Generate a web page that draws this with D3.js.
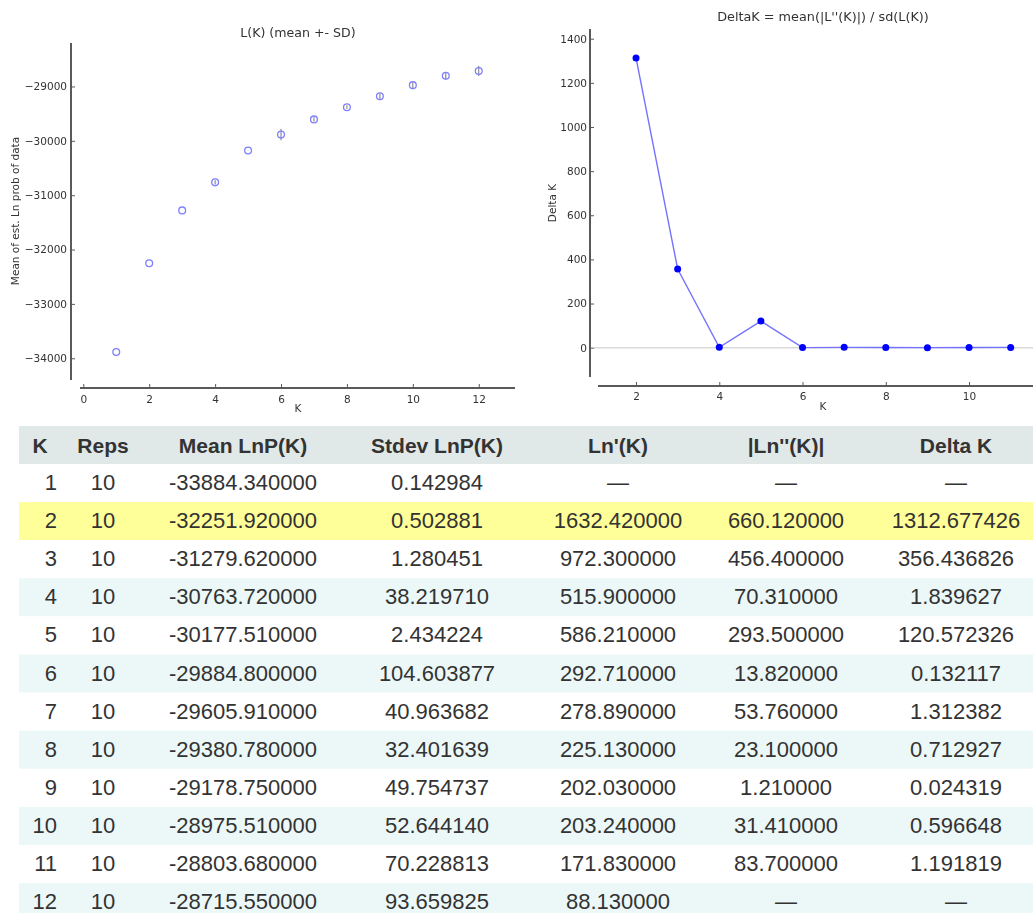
<!DOCTYPE html>
<html>
<head>
<meta charset="utf-8">
<script src="https://cdn.jsdelivr.net/npm/d3@7"></script>
<style>
  html, body { margin: 0; padding: 0; background: #fff; }
  svg { display: block; }
</style>
</head>
<body>
<svg id="chart" width="1033" height="913"></svg>
<script>
// Structure Harvester summary: K runs 1..12, 10 replicates each
const kValues   = [1, 2, 3, 4, 5, 6, 7, 8, 9, 10, 11, 12];
const reps      = [10, 10, 10, 10, 10, 10, 10, 10, 10, 10, 10, 10];
const meanLnP   = [-33884.34, -32251.92, -31279.62, -30763.72, -30177.51, -29884.80,
                   -29605.91, -29380.78, -29178.75, -28975.51, -28803.68, -28715.55];
const stdevLnP  = [0.142984, 0.502881, 1.280451, 38.219710, 2.434224, 104.603877,
                   40.963682, 32.401639, 49.754737, 52.644140, 70.228813, 93.659825];
const lnPrime   = [null, 1632.42, 972.30, 515.90, 586.21, 292.71, 278.89, 225.13,
                   202.03, 203.24, 171.83, 88.13];
const lnDouble  = [null, 660.12, 456.40, 70.31, 293.50, 13.82, 53.76, 23.10,
                   1.21, 31.41, 83.70, null];
const deltaK    = [null, 1312.677426, 356.436826, 1.839627, 120.572326, 0.132117,
                   1.312382, 0.712927, 0.024319, 0.596648, 1.191819, null];
const bestK     = 2;

const leftXTicks  = [0, 2, 4, 6, 8, 10, 12];
const leftYTicks  = [-34000, -33000, -32000, -31000, -30000, -29000];
const rightXTicks = [2, 4, 6, 8, 10];
const rightYTicks = [0, 200, 400, 600, 800, 1000, 1200, 1400];
const headers     = ["K", "Reps", "Mean LnP(K)", "Stdev LnP(K)", "Ln'(K)", "|Ln''(K)|", "Delta K"];

const svg = d3.select("#chart");
const plotFont = "DejaVu Sans, sans-serif";
const axisColor = "#5a5a5a";
const tickSize = 10.5;
const fmtTick = d => d < 0 ? "\u2212" + Math.abs(d) : String(d);

// the plots are slightly soft raster renderings
svg.append("defs").append("filter").attr("id", "soft")
  .append("feGaussianBlur").attr("stdDeviation", 0.45);

function styleAxis(g) {
  g.select(".domain").remove();
  g.selectAll(".tick line").attr("stroke", axisColor).attr("stroke-width", 1);
  g.selectAll(".tick text").attr("fill", "#333").attr("font-family", plotFont).attr("font-size", tickSize);
}

/* ---------- Left panel: L(K) mean +- SD ---------- */
const lx = d3.scaleLinear().domain([-0.1, 13.1]).range([80, 515]);
const ly = d3.scaleLinear().domain([-34400, -28200]).range([380, 43]);
const left = svg.append("g").attr("filter", "url(#soft)");

left.append("line").attr("x1", 71).attr("x2", 71).attr("y1", ly.range()[0]).attr("y2", ly.range()[1])
  .attr("stroke", axisColor).attr("stroke-width", 2);
left.append("line").attr("x1", lx.range()[0]).attr("x2", lx.range()[1]).attr("y1", 388).attr("y2", 388)
  .attr("stroke", axisColor).attr("stroke-width", 2);

left.append("g").attr("transform", "translate(71,0)")
  .call(d3.axisRight(ly).tickValues(leftYTicks).tickSize(4).tickFormat(fmtTick))
  .call(styleAxis)
  .call(g => g.selectAll(".tick text").attr("x", -4).attr("text-anchor", "end"));

left.append("g").attr("transform", "translate(0,388)")
  .call(d3.axisTop(lx).tickValues(leftXTicks).tickSize(4).tickFormat(d3.format("d")))
  .call(styleAxis)
  .call(g => g.selectAll(".tick text").attr("y", 8).attr("dy", "0.71em"));

const lkData = kValues.map((k, i) => ({k, m: meanLnP[i], sd: stdevLnP[i]}));
left.append("g").selectAll("line").data(lkData).join("line")
  .attr("x1", d => lx(d.k)).attr("x2", d => lx(d.k))
  .attr("y1", d => ly(d.m - d.sd)).attr("y2", d => ly(d.m + d.sd))
  .attr("stroke", "#777").attr("stroke-width", 1);
left.append("g").selectAll("circle").data(lkData).join("circle")
  .attr("cx", d => lx(d.k)).attr("cy", d => ly(d.m)).attr("r", 3.4)
  .attr("fill", "none").attr("stroke", "#7f7fff").attr("stroke-width", 1.3);

left.append("text").attr("x", 298).attr("y", 37).attr("text-anchor", "middle")
  .attr("font-family", plotFont).attr("font-size", 12.6).attr("fill", "#333").text("L(K) (mean +- SD)");
left.append("text").attr("x", 298).attr("y", 412).attr("text-anchor", "middle")
  .attr("font-family", plotFont).attr("font-size", tickSize).attr("fill", "#333").text("K");
left.append("text").attr("transform", "translate(19,211) rotate(-90)").attr("text-anchor", "middle")
  .attr("font-family", plotFont).attr("font-size", tickSize).attr("fill", "#333").text("Mean of est. Ln prob of data");

/* ---------- Right panel: Delta K ---------- */
const rx = d3.scaleLinear().domain([1, 12]).range([594.4, 1052.3]);
const ry = d3.scaleLinear().domain([-133, 1444]).range([377, 29]);
const right = svg.append("g").attr("filter", "url(#soft)");

right.append("line").attr("x1", 594).attr("x2", 1033).attr("y1", ry(0)).attr("y2", ry(0))
  .attr("stroke", "#d9d9d9").attr("stroke-width", 1.5);
right.append("line").attr("x1", 590).attr("x2", 590).attr("y1", ry.range()[0]).attr("y2", ry.range()[1])
  .attr("stroke", axisColor).attr("stroke-width", 2);
right.append("line").attr("x1", 598).attr("x2", 1033).attr("y1", 386).attr("y2", 386)
  .attr("stroke", axisColor).attr("stroke-width", 2);

right.append("g").attr("transform", "translate(590,0)")
  .call(d3.axisRight(ry).tickValues(rightYTicks).tickSize(4).tickFormat(d3.format("d")))
  .call(styleAxis)
  .call(g => g.selectAll(".tick text").attr("x", -3).attr("text-anchor", "end"));

right.append("g").attr("transform", "translate(0,386)")
  .call(d3.axisTop(rx).tickValues(rightXTicks).tickSize(4).tickFormat(d3.format("d")))
  .call(styleAxis)
  .call(g => g.selectAll(".tick text").attr("y", 7).attr("dy", "0.71em"));

const dkData = kValues.map((k, i) => ({k, v: deltaK[i]})).filter(d => d.v !== null);
right.append("path").datum(dkData)
  .attr("d", d3.line().x(d => rx(d.k)).y(d => ry(d.v)))
  .attr("fill", "none").attr("stroke", "#7373ff").attr("stroke-width", 1.4);
right.append("g").selectAll("circle").data(dkData).join("circle")
  .attr("cx", d => rx(d.k)).attr("cy", d => ry(d.v)).attr("r", 3.5).attr("fill", "#0000ff");

right.append("text").attr("x", 823).attr("y", 21).attr("text-anchor", "middle")
  .attr("font-family", plotFont).attr("font-size", 12.8).attr("fill", "#333")
  .text("DeltaK = mean(|L''(K)|) / sd(L(K))");
right.append("text").attr("x", 823).attr("y", 410).attr("text-anchor", "middle")
  .attr("font-family", plotFont).attr("font-size", tickSize).attr("fill", "#333").text("K");
right.append("text").attr("transform", "translate(556,203) rotate(-90)").attr("text-anchor", "middle")
  .attr("font-family", plotFont).attr("font-size", tickSize).attr("fill", "#333").text("Delta K");

/* ---------- Summary table ---------- */
const tableFont = "Liberation Sans, Arial, sans-serif";
const colCenters = [40, 103, 243, 437, 618, 786, 956];
const headTop = 426, headH = 38, rowH = 38.1;
const table = svg.append("g");
const dash = "\u2014";
const fmt6 = v => v === null ? dash : v.toFixed(6);

table.append("rect").attr("x", 19).attr("y", headTop).attr("width", 1014).attr("height", headH).attr("fill", "#e1e8e8");
table.selectAll("text.head").data(headers).join("text").attr("class", "head")
  .attr("x", (d, i) => colCenters[i]).attr("y", headTop + headH / 2 + 7.5)
  .attr("text-anchor", "middle").attr("font-family", tableFont).attr("font-weight", "bold")
  .attr("font-size", 21).attr("fill", "#333").text(d => d);

const rows = kValues.map((k, i) => ({
  k, i,
  cells: [String(k), String(reps[i]), meanLnP[i].toFixed(6), stdevLnP[i].toFixed(6),
          fmt6(lnPrime[i]), fmt6(lnDouble[i]), fmt6(deltaK[i])]
}));

const rowG = table.selectAll("g.row").data(rows).join("g").attr("class", "row")
  .attr("transform", d => `translate(0,${headTop + headH + d.i * rowH})`);
rowG.append("rect").attr("x", 19).attr("width", 1014).attr("height", rowH)
  .attr("fill", d => d.k === bestK ? "#ffff99" : (d.k % 2 === 0 ? "#ecf8f8" : "#ffffff"));
rowG.selectAll("text").data(d => d.cells).join("text")
  .attr("x", (d, j) => j === 0 ? 57 : colCenters[j]).attr("y", rowH / 2 + 7)
  .attr("text-anchor", (d, j) => j === 0 ? "end" : "middle")
  .attr("font-family", tableFont).attr("font-size", 22).attr("fill", "#333").text(d => d);
</script>
</body>
</html>
